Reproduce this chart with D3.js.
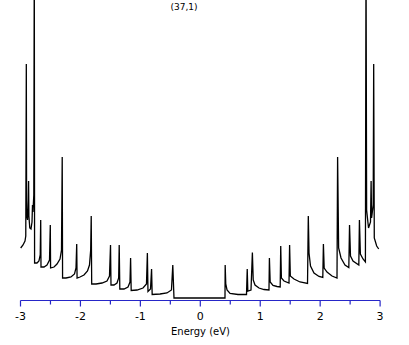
<!DOCTYPE html>
<html>
<head>
<meta charset="utf-8">
<script src="https://cdn.jsdelivr.net/npm/d3@7"></script>
<style>
  body { margin: 0; background: #fff; }
  svg { display: block; }
  text { font-family: "DejaVu Sans", sans-serif; fill: #000; }
</style>
</head>
<body>
<svg id="viz"></svg>
<script>
// tube label
var tubeLabel = "(37,1)"

// energy (eV) of each point on the DOS curve
var energy = [
  -2.997, -2.958, -2.925, -2.912, -2.903, -2.898, -2.883, -2.870, -2.865, -2.860,
  -2.845, -2.825, -2.808, -2.800, -2.792, -2.778, -2.770, -2.765, -2.725, -2.692,
  -2.671, -2.663, -2.658, -2.608, -2.558, -2.516, -2.503, -2.498, -2.441, -2.391,
  -2.341, -2.316, -2.304, -2.298, -2.241, -2.158, -2.099, -2.074, -2.062, -2.056,
  -2.007, -1.941, -1.882, -1.849, -1.829, -1.820, -1.812, -1.740, -1.640, -1.557,
  -1.515, -1.498, -1.490, -1.440, -1.390, -1.362, -1.353, -1.343, -1.273, -1.206,
  -1.173, -1.163, -1.153, -1.056, -0.956, -0.898, -0.883, -0.873, -0.831, -0.813,
  -0.803, -0.672, -0.556, -0.481, -0.459, -0.439,
  0.412, 0.415, 0.425, 0.446, 0.496, 0.629, 0.771, 0.783, 0.793, 0.846,
  0.869, 0.883, 0.913, 0.979, 1.063, 1.146, 1.153, 1.166, 1.213, 1.280,
  1.333, 1.342, 1.353, 1.397, 1.480, 1.490, 1.502, 1.563, 1.664, 1.789,
  1.802, 1.814, 1.839, 1.897, 1.981, 2.044, 2.054, 2.067, 2.114, 2.198,
  2.281, 2.291, 2.308, 2.348, 2.414, 2.478, 2.490, 2.506, 2.548, 2.645,
  2.655, 2.671, 2.715, 2.755, 2.765, 2.775, 2.807, 2.840, 2.850, 2.858,
  2.885, 2.893, 2.903, 2.943, 2.977
]

// density of states (arbitrary units), same order as energy
var dos = [
  0.52, 0.55, 0.59, 0.64, 2.36, 0.86, 0.80, 1.00, 1.19, 0.84,
  0.72, 0.71, 0.78, 0.95, 0.88, 1.05, 3.50, 0.37, 0.37, 0.39,
  0.45, 0.80, 0.33, 0.33, 0.35, 0.40, 0.75, 0.32, 0.33, 0.36,
  0.41, 0.50, 1.43, 0.22, 0.22, 0.23, 0.26, 0.32, 0.56, 0.22,
  0.23, 0.25, 0.29, 0.35, 0.50, 0.84, 0.16, 0.16, 0.17, 0.19,
  0.24, 0.55, 0.15, 0.15, 0.17, 0.22, 0.55, 0.11, 0.11, 0.13,
  0.18, 0.42, 0.095, 0.10, 0.12, 0.16, 0.47, 0.085, 0.11, 0.31,
  0.055, 0.06, 0.07, 0.10, 0.35, 0.02,
  0.02, 0.35, 0.16, 0.10, 0.065, 0.055, 0.055, 0.31, 0.09, 0.10,
  0.475, 0.20, 0.15, 0.12, 0.105, 0.10, 0.42, 0.18, 0.145, 0.135,
  0.13, 0.54, 0.22, 0.19, 0.17, 0.55, 0.24, 0.21, 0.18, 0.165,
  0.84, 0.47, 0.34, 0.27, 0.235, 0.225, 0.56, 0.32, 0.28, 0.24,
  0.22, 1.43, 0.52, 0.42, 0.35, 0.325, 0.75, 0.44, 0.39, 0.35,
  0.80, 0.46, 0.41, 0.38, 3.50, 0.90, 0.72, 0.78, 1.19, 0.82,
  0.95, 2.36, 0.62, 0.54, 0.51
]

var xTicks = [-3, -2, -1, 0, 1, 2, 3]
var xMinorTicks = [-2.5, -1.5, -0.5, 0.5, 1.5, 2.5]
var xLabel = "Energy (eV)"

var width = 409, height = 345

var svg = d3.select("#viz")
  .attr("width", width)
  .attr("height", height)

var x = d3.scaleLinear().domain([-3, 3]).range([20.5, 380.1])
var y = d3.scaleLinear().domain([0, 3]).range([300, 0])

svg.append("defs").append("clipPath").attr("id", "clip")
  .append("rect").attr("x", 0).attr("y", 0).attr("width", width).attr("height", 300)

var pts = energy.map(function (e, i) { return [e, dos[i]] })

var line = d3.line()
  .x(function (d) { return x(d[0]) })
  .y(function (d) { return y(d[1]) })

svg.append("path")
  .datum(pts)
  .attr("clip-path", "url(#clip)")
  .attr("d", line)
  .attr("fill", "none")
  .attr("stroke", "#000")
  .attr("stroke-width", 1.3)
  .attr("stroke-linejoin", "miter")

// axis (blue)
var axisColor = "#2626c8"
var axisG = svg.append("g").attr("transform", "translate(0,300.5)")

axisG.append("line")
  .attr("x1", x(-3)).attr("x2", x(3))
  .attr("y1", 0).attr("y2", 0)
  .attr("stroke", axisColor).attr("stroke-width", 1.2)

axisG.selectAll("line.major")
  .data(xTicks).enter().append("line")
  .attr("class", "major")
  .attr("x1", function (d) { return x(d) }).attr("x2", function (d) { return x(d) })
  .attr("y1", 0).attr("y2", 6)
  .attr("stroke", axisColor).attr("stroke-width", 1.2)

axisG.selectAll("line.minor")
  .data(xMinorTicks).enter().append("line")
  .attr("class", "minor")
  .attr("x1", function (d) { return x(d) }).attr("x2", function (d) { return x(d) })
  .attr("y1", 0).attr("y2", 4)
  .attr("stroke", axisColor).attr("stroke-width", 1.2)

axisG.selectAll("text.tick")
  .data(xTicks).enter().append("text")
  .attr("class", "tick")
  .attr("x", function (d) { return x(d) })
  .attr("y", 19)
  .attr("text-anchor", "middle")
  .style("font-size", "11px")
  .text(function (d) { return d < 0 ? "-" + Math.abs(d) : d })

svg.append("text")
  .attr("x", 200.5)
  .attr("y", 335)
  .attr("text-anchor", "middle")
  .style("font-size", "10px")
  .text(xLabel)

svg.append("text")
  .attr("x", 184)
  .attr("y", 10)
  .attr("text-anchor", "middle")
  .style("font-size", "9px")
  .text(tubeLabel)
</script>
</body>
</html>
